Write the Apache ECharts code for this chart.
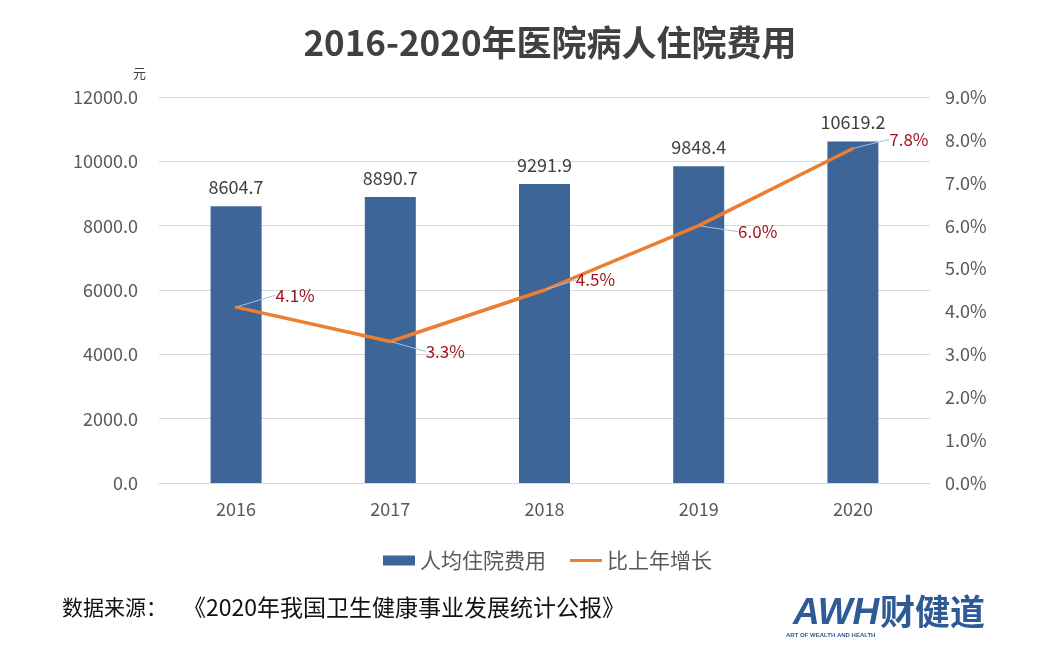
<!DOCTYPE html>
<html><head><meta charset="utf-8">
<script src="https://cdn.jsdelivr.net/npm/echarts@6/dist/echarts.min.js"></script>
<style>html,body{margin:0;padding:0;background:#fff;}#c{width:1047px;height:659px;}</style>
</head><body><div id="c"></div>
<script>
var years = ['2016','2017','2018','2019','2020'];
var costPerPatient = [8604.7, 8890.7, 9291.9, 9848.4, 10619.2];
var growthRate = [4.1, 3.3, 4.5, 6.0, 7.8];
var leftTicks = [0, 2000, 4000, 6000, 8000, 10000, 12000];
var rightTicks = [0, 1, 2, 3, 4, 5, 6, 7, 8, 9];

var FONT = '"Noto Sans CJK SC", "Noto Sans", sans-serif';
var labelOffsets = [[59, -12], [55, 10], [51, -10], [59, 6], [56, -9]];

var chart = echarts.init(document.getElementById('c'));
chart.setOption({
  backgroundColor: '#fff',
  animation: false,
  textStyle: {fontFamily: FONT},
  title: {
    text: '2016-2020年医院病人住院费用',
    left: 545, top: 20, textAlign: 'center',
    textStyle: {fontSize: 35, fontWeight: 'bold', color: '#404040', fontFamily: FONT}
  },
  grid: {left: 159, right: 117, top: 97, bottom: 176},
  legend: {
    bottom: 83, left: 378, itemGap: 24, itemWidth: 32, itemHeight: 10,
    textStyle: {fontSize: 21, color: '#595959', fontFamily: FONT},
    data: [
      {name: '人均住院费用', icon: 'rect'},
      {name: '比上年增长', icon: 'path://M0,4 L32,4 L32,7 L0,7 Z'}
    ]
  },
  xAxis: {
    type: 'category', data: years,
    axisLine: {lineStyle: {color: '#D9D9D9', width: 1}},
    axisTick: {show: false},
    axisLabel: {fontSize: 18, color: '#595959', margin: 17}
  },
  yAxis: [{
    type: 'value', min: leftTicks[0], max: leftTicks[leftTicks.length - 1], interval: 2000,
    axisLine: {show: false}, axisTick: {show: false},
    axisLabel: {fontSize: 18, color: '#595959', margin: 21, formatter: function (v) { return v.toFixed(1); }},
    splitLine: {lineStyle: {color: '#D9D9D9', width: 1}}
  }, {
    type: 'value', min: rightTicks[0], max: rightTicks[rightTicks.length - 1], interval: 1,
    axisLine: {show: false}, axisTick: {show: false},
    axisLabel: {fontSize: 18, color: '#595959', margin: 15, formatter: function (v) { return v.toFixed(1) + '%'; }},
    splitLine: {show: false}
  }],
  series: [{
    name: '人均住院费用', type: 'bar', data: costPerPatient, barWidth: 51,
    itemStyle: {color: '#3E6597'},
    label: {show: true, position: 'top', distance: 10, fontSize: 18, color: '#404040',
      formatter: function (p) { return p.value.toFixed(1); }}
  }, {
    name: '比上年增长', type: 'line', yAxisIndex: 1, data: growthRate,
    symbol: 'circle', symbolSize: 3, showSymbol: true,
    itemStyle: {color: '#ED7D31'},
    lineStyle: {color: '#ED7D31', width: 3.5},
    label: {show: true, position: 'inside', fontSize: 17, color: '#A0141E',
      formatter: function (p) { return p.value.toFixed(1) + '%'; }},
    labelLine: {show: true, lineStyle: {color: '#9DC3E6', width: 1}},
    labelLayout: function (p) {
      var o = labelOffsets[p.dataIndex];
      return {dx: o[0], dy: o[1]};
    },
    z: 3
  }],
  graphic: [
    {type: 'text', left: 133, top: 67,
      style: {text: '元', fontSize: 13, fill: '#404040', fontFamily: FONT}},
    {type: 'text', left: 62, top: 597,
      style: {text: '数据来源：', fontSize: 21, fill: '#111', fontFamily: FONT}},
    {type: 'text', left: 183, top: 596,
      style: {text: '《2020年我国卫生健康事业发展统计公报》', fontSize: 23, fill: '#111', fontFamily: FONT}},
    {type: 'text', left: 793, top: 595,
      style: {text: 'AWH', fontSize: 37, fontWeight: 'bold', fontStyle: 'italic', fill: '#2E5B95',
        fontFamily: '"Liberation Sans", sans-serif'}},
    {type: 'text', left: 880, top: 594,
      style: {text: '财健道', fontSize: 35, fontWeight: 'bold', fill: '#2E5B95', fontFamily: FONT}},
    {type: 'text', left: 786, top: 632,
      style: {text: 'ART OF WEALTH AND HEALTH', fontSize: 6, fontWeight: 'bold', fill: '#2E5B95',
        fontFamily: '"Liberation Sans", sans-serif'}}
  ]
});
</script>
</body></html>
